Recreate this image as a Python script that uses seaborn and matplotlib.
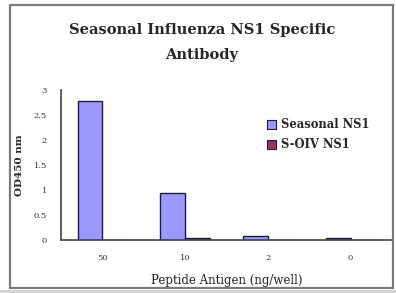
import matplotlib
matplotlib.use("Agg")
import matplotlib.pyplot as plt
import seaborn as sns
import pandas as pd
from matplotlib.patches import Rectangle

categories = ["50", "10", "2", "0"]
seasonal_ns1 = [2.78, 0.95, 0.08, 0.05]
soiv_ns1 = [0.0, 0.05, 0.0, 0.0]
series_names = ["Seasonal NS1", "S-OIV NS1"]
yticks = [0, 0.5, 1, 1.5, 2, 2.5, 3]
ytick_labels = ["0", "0.5", "1", "1.5", "2", "2.5", "3"]

df = pd.DataFrame({
    "antigen": categories * 2,
    "od": seasonal_ns1 + soiv_ns1,
    "series": [series_names[0]] * 4 + [series_names[1]] * 4,
})

sns.set_theme(style="white")
plt.rcParams['font.family'] = ['DejaVu Serif', 'Liberation Serif']

fig = plt.figure(figsize=(3.96, 2.93), dpi=100)
fig.patch.set_facecolor("white")

# outer frame
fig.patches.append(Rectangle((10/396, 1-288/293), (393-10)/396, (288-5)/293,
                             transform=fig.transFigure, fill=False,
                             edgecolor="#7a7a7a", linewidth=1.6, zorder=0))
fig.patches.append(Rectangle((0, 0), 1, 3/293, transform=fig.transFigure,
                             facecolor="#d4d4d4", edgecolor="none", zorder=0))

ax = fig.add_axes([61/396, 1-240/293, (392-61)/396, (240-90)/293])
palette = {series_names[0]: "#9999FF", series_names[1]: "#993366"}
sns.barplot(data=df, x="antigen", y="od", hue="series", order=categories,
            hue_order=series_names, palette=palette, width=0.6,
            edgecolor="#1a1a4a", linewidth=1.0, ax=ax, legend=False,
            saturation=1)

ax.set_ylim(0, 3)
ax.set_xlim(-0.5, 3.5)
ax.set_yticks(yticks)
ax.set_yticklabels(ytick_labels, fontsize=6)
ax.tick_params(axis="y", length=3, width=1, direction="out", pad=7, colors="#333333")
ax.tick_params(axis="x", length=0, labelsize=6, pad=10, colors="#333333")
ax.set_xticks([0.5, 1.5, 2.5], minor=True)
ax.tick_params(axis="x", which="minor", length=3, width=1, direction="inout", color="#333333")
for s in ["top", "right"]:
    ax.spines[s].set_visible(False)
for s in ["left", "bottom"]:
    ax.spines[s].set_color("#444444")
    ax.spines[s].set_linewidth(1.2)
ax.set_xlabel("Peptide Antigen (ng/well)", fontsize=8.5, labelpad=9)
ax.set_ylabel("OD450 nm", fontsize=7.5, fontweight="bold", labelpad=7)

fig.text(0.51, 1-30/293, "Seasonal Influenza NS1 Specific", ha="center", va="center",
         fontsize=10.5, fontweight="bold")
fig.text(0.51, 1-55/293, "Antibody", ha="center", va="center",
         fontsize=10.5, fontweight="bold")

handles = [Rectangle((0, 0), 1, 1, facecolor=palette[n], edgecolor="#1a1a4a", linewidth=0.8)
           for n in series_names]
fig.legend(handles, series_names, loc="upper left", bbox_to_anchor=(0.648, 1-108/293),
           frameon=False, handlelength=0.8, handleheight=0.8,
           handletextpad=0.4, labelspacing=0.6, prop={"weight": "bold", "size": 8.3})

fig.savefig("out.png", dpi=100, facecolor="white")
